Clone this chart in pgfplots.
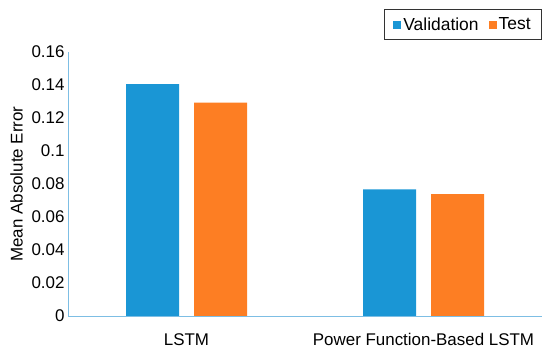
\documentclass[border=0pt]{standalone}
\usepackage{pgfplots}
\pgfplotsset{compat=1.18}
\usepackage{fontspec}
\setmainfont{Liberation Sans}
\definecolor{valblue}{RGB}{26,150,213}
\definecolor{testorange}{RGB}{253,126,35}
\definecolor{axisblue}{RGB}{125,190,228}
\begin{document}
\begin{tikzpicture}
\begin{axis}[
  scale only axis,
  width=474bp, height=264bp,
  xmin=-0.5, xmax=1.5,
  ymin=0, ymax=0.16,
  ytick={0,0.02,0.04,0.06,0.08,0.1,0.12,0.14,0.16},
  yticklabels={0,0.02,0.04,0.06,0.08,0.1,0.12,0.14,0.16},
  xtick={0,1},
  xticklabels={LSTM,Power Function-Based LSTM},
  axis x line*=bottom,
  axis y line*=left,
  axis line style={axisblue, line width=1pt, -},
  major tick length=0pt,
  tick style={draw=none},
  ybar=15bp,
  bar width=53bp,
  ylabel={Mean Absolute Error},
  ylabel style={font=\fontsize{17}{20}\selectfont, yshift=2bp},
  tick label style={font=\fontsize{17}{20}\selectfont, black},
  xticklabel style={yshift=-14bp},
  /pgf/number format/assume math mode=true,
  legend columns=2,
  legend style={at={(1,1)}, anchor=south east, yshift=12bp,
    draw=black!80, line width=0.8pt,
    font=\fontsize{17.5}{20}\selectfont,
    inner xsep=9bp, inner ysep=6bp,
    /tikz/every even column/.append style={column sep=8bp}},
  legend image code/.code={\fill[#1] (0bp,-4bp) rectangle (8bp,4bp);},
]
\addplot[fill=valblue, draw=none] coordinates {(0,0.1405) (1,0.0768)};
\addplot[fill=testorange, draw=none] coordinates {(0,0.1293) (1,0.0739)};
\legend{Validation,Test}
\end{axis}
\pgfresetboundingbox
\path (0bp,0bp) ++(-68bp,-36bp) rectangle ++(550bp,352bp);
\end{tikzpicture}
\end{document}
